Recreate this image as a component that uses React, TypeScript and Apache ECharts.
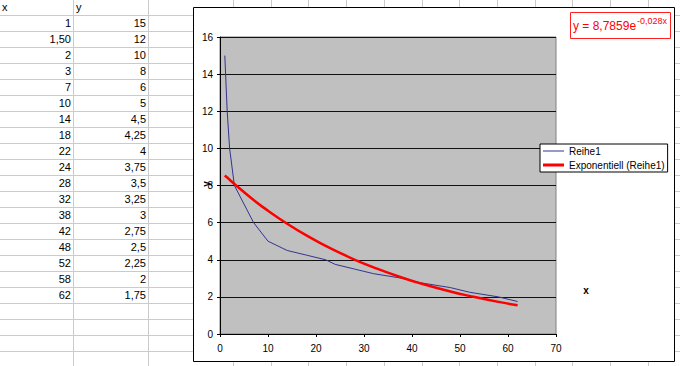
import React, { useEffect, useRef } from "react";
import * as echarts from "echarts";

// ---- data ----
const xCellText = ["1", "1,50", "2", "3", "7", "10", "14", "18", "22", "24", "28", "32", "38", "42", "48", "52", "58", "62"];
const yValues = [15, 12, 10, 8, 6, 5, 4.5, 4.25, 4, 3.75, 3.5, 3.25, 3, 2.75, 2.5, 2.25, 2, 1.75];
// exponential trend line values at each x
const trendValues = [8.54, 8.43, 8.31, 8.08, 7.22, 6.64, 5.94, 5.31, 4.75, 4.49, 4.01, 3.59, 3.03, 2.71, 2.29, 2.05, 1.73, 1.55];
const xTicks = { min: 0, max: 70, interval: 10 };
const yTicks = { min: 0, max: 16, interval: 2 };
const seriesName = "Reihe1";
const trendName = "Exponentiell (Reihe1)";
const equationMain = "y = 8,7859e";
const equationExp = "-0,028x";

const xValues = xCellText.map((s) => parseFloat(s.replace(",", ".")));
const yCellText = yValues.map((v) => String(v).replace(".", ","));

const FONT = "'Liberation Sans', Arial, sans-serif";
const GRID_COLOR = "#cbcbcb";

function buildSheetGraphics() {
  const els: any[] = [];
  const rowH = 15.98;
  const firstRowLine = 15;
  for (let k = 0; k < 23; k++) {
    const y = Math.round(firstRowLine + k * rowH) + 0.5;
    els.push({ type: "line", shape: { x1: 0, y1: y, x2: 193, y2: y }, style: { stroke: GRID_COLOR, lineWidth: 1 }, silent: true });
    els.push({ type: "line", shape: { x1: 675, y1: y, x2: 680, y2: y }, style: { stroke: GRID_COLOR, lineWidth: 1 }, silent: true });
  }
  [73.5, 148.5].forEach((x) => {
    els.push({ type: "line", shape: { x1: x, y1: 0, x2: x, y2: 366 }, style: { stroke: GRID_COLOR, lineWidth: 1 }, silent: true });
  });
  for (let i = 0; i < 13; i++) {
    const x = Math.round(233 + i * 37.7) + 0.5;
    els.push({ type: "line", shape: { x1: x, y1: 0, x2: x, y2: 7 }, style: { stroke: GRID_COLOR, lineWidth: 1 }, silent: true });
    els.push({ type: "line", shape: { x1: x, y1: 362, x2: x, y2: 366 }, style: { stroke: GRID_COLOR, lineWidth: 1 }, silent: true });
  }
  els.push({ type: "text", x: 2, y: 7, style: { text: "x", font: `11px ${FONT}`, fill: "#000", verticalAlign: "middle", align: "left" }, silent: true });
  els.push({ type: "text", x: 76, y: 7, style: { text: "y", font: `11px ${FONT}`, fill: "#000", verticalAlign: "middle", align: "left" }, silent: true });
  xCellText.forEach((t, i) => {
    const cy = firstRowLine + (i + 0.5) * rowH + 0.5;
    els.push({ type: "text", x: 71, y: cy, style: { text: t, font: `11px ${FONT}`, fill: "#000", verticalAlign: "middle", align: "right" }, silent: true });
    els.push({ type: "text", x: 146, y: cy, style: { text: yCellText[i], font: `11px ${FONT}`, fill: "#000", verticalAlign: "middle", align: "right" }, silent: true });
  });
  return els;
}

export default function App() {
  const ref = useRef<HTMLDivElement>(null);
  useEffect(() => {
    if (!ref.current) return;
    document.body.style.margin = "0";
    const chart = echarts.init(ref.current, undefined, { renderer: "svg" });
    const option: any = {
      animation: false,
      backgroundColor: "#ffffff",
      textStyle: { fontFamily: FONT },
      grid: {
        left: 220,
        top: 37,
        right: 124,
        bottom: 32,
        show: true,
        backgroundColor: "#c0c0c0",
        borderColor: "#808080",
        borderWidth: 1,
      },
      legend: {
        orient: "vertical",
        left: 540,
        top: 144,
        padding: [2, 3, 2, 3],
        itemGap: 4,
        itemWidth: 21,
        itemHeight: 14,
        symbolKeepAspect: true,
        backgroundColor: "#ffffff",
        borderColor: "#000000",
        borderWidth: 1,
        borderRadius: 0,
        textStyle: { fontSize: 10, color: "#000", fontFamily: FONT },
        data: [
          { name: seriesName, icon: "path://M0,0H21V1H0Z" },
          { name: trendName, icon: "path://M0,0H21V3H0Z" },
        ],
      },
      xAxis: {
        type: "value",
        min: xTicks.min,
        max: xTicks.max,
        interval: xTicks.interval,
        axisLine: { show: true, onZero: false, lineStyle: { color: "#000", width: 1 } },
        axisTick: { show: true, length: 3, lineStyle: { color: "#000" } },
        axisLabel: { fontSize: 10, color: "#000", margin: 9, fontFamily: FONT },
        splitLine: { show: false },
      },
      yAxis: {
        type: "value",
        min: yTicks.min,
        max: yTicks.max,
        interval: yTicks.interval,
        axisLine: { show: true, onZero: false, lineStyle: { color: "#000", width: 1 } },
        axisTick: { show: true, length: 3, lineStyle: { color: "#000" } },
        axisLabel: { fontSize: 10, color: "#000", margin: 7, fontFamily: FONT },
        splitLine: { show: true, lineStyle: { color: "#111", width: 1 } },
      },
      series: [
        {
          name: seriesName,
          type: "line",
          data: xValues.map((x, i) => [x, yValues[i]]),
          symbol: "none",
          lineStyle: { color: "#33338f", width: 1 },
          itemStyle: { color: "#33338f" },
          z: 3,
        },
        {
          name: trendName,
          type: "line",
          data: xValues.map((x, i) => [x, trendValues[i]]),
          symbol: "none",
          smooth: true,
          lineStyle: { color: "#ff0000", width: 2.5 },
          itemStyle: { color: "#ff0000" },
          z: 4,
        },
      ],
      graphic: [
        ...buildSheetGraphics(),
        { type: "rect", shape: { x: 193.5, y: 7.5, width: 481, height: 354 }, style: { fill: "none", stroke: "#000", lineWidth: 1 }, silent: true, z: 1 },
        { type: "rect", shape: { x: 570.5, y: 12.5, width: 100, height: 26 }, style: { fill: "#fff", stroke: "#ff2020", lineWidth: 1 }, silent: true, z: 10 },
        { type: "text", x: 573, y: 26, style: { text: equationMain, font: `12px ${FONT}`, fill: "#ff0000", verticalAlign: "middle", align: "left" }, silent: true, z: 11 },
        { type: "text", x: 637, y: 20.5, style: { text: equationExp, font: `9px ${FONT}`, fill: "#ff0000", verticalAlign: "middle", align: "left" }, silent: true, z: 11 },
        // axis titles
        { type: "text", x: 586, y: 290, style: { text: "x", font: `bold 10px ${FONT}`, fill: "#000", verticalAlign: "middle", align: "center" }, silent: true, z: 11 },
        { type: "text", x: 206, y: 184, rotation: Math.PI / 2, style: { text: "y", font: `bold 10px ${FONT}`, fill: "#000", verticalAlign: "middle", align: "center" }, silent: true, z: 11 },
      ],
    };
    chart.setOption(option);
    return () => chart.dispose();
  }, []);
  return <div ref={ref} style={{ position: "fixed", left: 0, top: 0, width: 680, height: 366 }} />;
}
